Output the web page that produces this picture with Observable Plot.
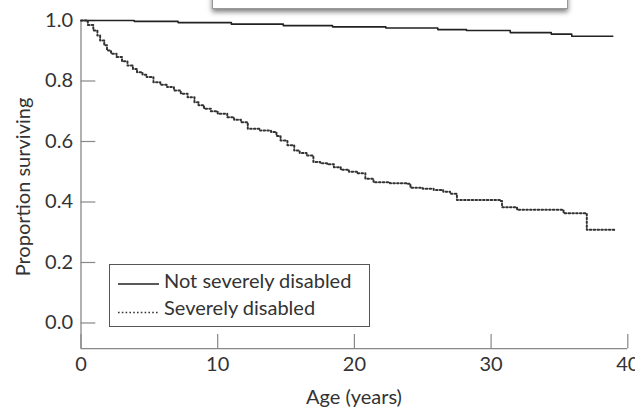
<!DOCTYPE html>
<html><head><meta charset="utf-8">
<script src="https://cdn.jsdelivr.net/npm/d3@7"></script>
<script src="https://cdn.jsdelivr.net/npm/@observablehq/plot@0.6"></script>
<style>
body{margin:0;background:#fff;}
#wrap{position:relative;width:635px;height:407px;overflow:hidden;font-family:Lato,"Open Sans",sans-serif;color:#333;background:#fff;}
#topbox{position:absolute;left:212px;top:-30px;width:354px;height:37px;border:1px solid #999;background:#fff;box-shadow:0 3px 5px rgba(0,0,0,0.5);}
#legend{position:absolute;left:109px;top:264px;width:261px;height:63px;border:1px solid #555;background:#fff;box-sizing:border-box;}
#legend .row{position:absolute;left:54px;font-size:20px;line-height:22px;white-space:nowrap;color:#333;}
#legend svg{position:absolute;left:0;top:0;}
.axtitle{position:absolute;font-size:20px;line-height:22px;white-space:nowrap;color:#333;transform:translate(-50%,-50%);}
#ytitle{left:22px;top:187px;transform:translate(-50%,-50%) rotate(-90deg);}
#xtitle{left:354px;top:396px;}
</style></head>
<body>
<div id="wrap"><div id="chart"></div><div id="topbox"></div><div id="legend"></div>
<div id="ytitle" class="axtitle"></div><div id="xtitle" class="axtitle"></div></div>
<script>
const seriesNames = ["Not severely disabled", "Severely disabled"];
const notSevereTime = [0, 3.9, 7.1, 11, 14.8, 18.4, 22.3, 26.1, 28.2, 31.4, 34.4, 35.9, 38.9];
const notSevereSurv = [1.000, 0.997, 0.993, 0.988, 0.983, 0.979, 0.975, 0.970, 0.967, 0.960, 0.955, 0.948, 0.948];
const severeTime = [0, 0.5, 0.9, 1.2, 1.4, 1.7, 1.9, 2.2, 2.6, 3.0, 3.4, 3.8, 4.1, 4.5, 4.8, 5.3, 5.8, 6.3, 6.8, 7.3,
  7.8, 8.3, 8.6, 9.0, 9.5, 10.0, 10.7, 11.2, 11.7, 12.2, 13.1, 13.9, 14.3, 14.6, 15.1, 15.6, 16.0, 16.5, 17.0, 17.5,
  18.0, 18.5, 19.0, 19.6, 20.2, 20.8, 21.4, 22.6, 23.9, 24.1, 25.0, 25.8, 26.5, 27.0, 27.5, 30.7, 30.8, 31.9, 35.3, 37.0, 39.0];
const severeSurv = [1.000, 0.985, 0.967, 0.950, 0.934, 0.918, 0.901, 0.890, 0.879, 0.865, 0.851, 0.840, 0.829, 0.821, 0.813, 0.796, 0.788, 0.780, 0.769, 0.758,
  0.746, 0.730, 0.720, 0.708, 0.700, 0.692, 0.680, 0.672, 0.664, 0.642, 0.636, 0.631, 0.618, 0.603, 0.588, 0.570, 0.562, 0.554, 0.532, 0.528,
  0.525, 0.515, 0.507, 0.500, 0.495, 0.477, 0.465, 0.462, 0.460, 0.447, 0.444, 0.440, 0.434, 0.427, 0.407, 0.403, 0.383, 0.374, 0.363, 0.308, 0.306];
const xTicks = [0, 10, 20, 30, 40];
const yTicks = [0.0, 0.2, 0.4, 0.6, 0.8, 1.0];
const xLabel = "Age (years)";
const yLabel = "Proportion surviving";

const rows = [];
notSevereTime.forEach((t, i) => rows.push({group: seriesNames[0], t, s: notSevereSurv[i]}));
severeTime.forEach((t, i) => rows.push({group: seriesNames[1], t, s: severeSurv[i]}));

const yMin = -0.085;
const axisColor = "#888";
const chart = Plot.plot({
  width: 635, height: 407,
  marginLeft: 80.5, marginRight: 7.7, marginTop: 20, marginBottom: 58.8,
  style: {fontFamily: "Lato, 'Open Sans', sans-serif", background: "#fff", color: "#333", overflow: "visible"},
  x: {domain: [0, 40]},
  y: {domain: [yMin, 1]},
  marks: [
    Plot.ruleX([0], {stroke: axisColor, strokeWidth: 1.3}),
    Plot.ruleY([yMin], {stroke: axisColor, strokeWidth: 1.3}),
    Plot.tickY(yTicks, {y: d => d, stroke: axisColor, strokeWidth: 1.2, insetRight: 532}),
    Plot.tickX(xTicks, {x: d => d, stroke: axisColor, strokeWidth: 1.2, insetTop: 314}),
    Plot.axisY(yTicks, {tickSize: 0, tickPadding: 8, tickFormat: d3.format(".1f"), fontSize: 20, fill: "#333", label: null}),
    Plot.axisX(xTicks, {tickSize: 0, tickPadding: 8, tickFormat: d3.format("d"), fontSize: 20, fill: "#333", label: null}),
    Plot.line(rows, {filter: d => d.group === seriesNames[0], x: "t", y: "s", curve: "step-after", stroke: "#222", strokeWidth: 1.6}),
    Plot.line(rows, {filter: d => d.group === seriesNames[1], x: "t", y: "s", curve: "step-after", stroke: "#333", strokeWidth: 2, strokeDasharray: "1.6,2.2"})
  ]
});
document.getElementById("chart").appendChild(chart);
document.getElementById("xtitle").textContent = xLabel;
document.getElementById("ytitle").textContent = yLabel;

const legend = document.getElementById("legend");
legend.innerHTML = `<svg width="60" height="63">
  <line x1="8" x2="49" y1="19" y2="19" stroke="#222" stroke-width="1.6"/>
  <line x1="8" x2="49" y1="47.5" y2="47.5" stroke="#333" stroke-width="1.6" stroke-dasharray="1.6,2.2"/>
</svg>
<div class="row" style="top:4px">${seriesNames[0]}</div>
<div class="row" style="top:31px">${seriesNames[1]}</div>`;
</script>
</body></html>
